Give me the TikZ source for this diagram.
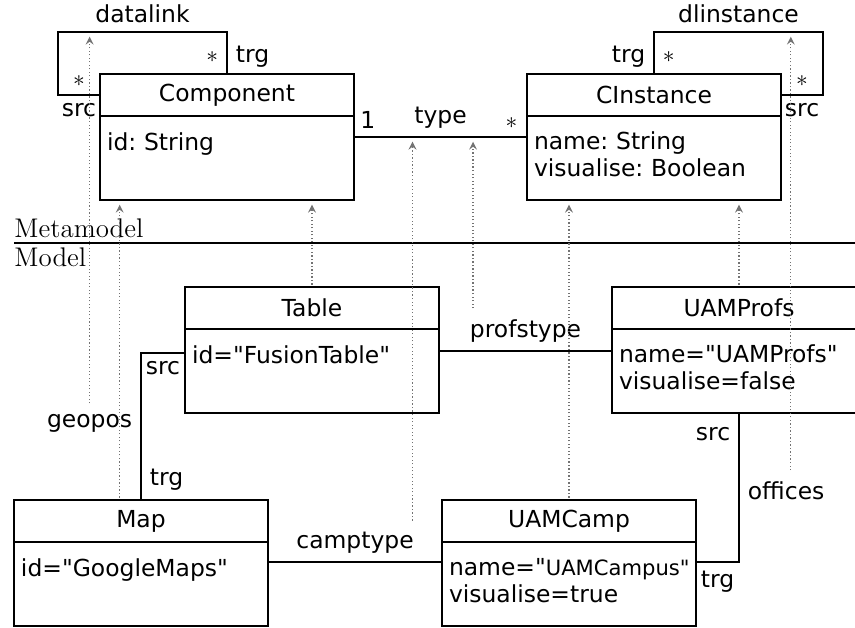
\documentclass[tikz,border=0pt]{standalone}
\usepackage{fontspec}
\newfontfamily\umlfont{DejaVu Sans}
\usetikzlibrary{positioning}
\tikzset{
  cls/.style={draw, line width=0.9pt, outer sep=0pt, inner sep=0pt, minimum width=3.81cm, minimum height=0.63cm, anchor=north west},
  attrs/.style={draw, line width=0.9pt, outer sep=0pt, inner xsep=0.105cm, inner ysep=0pt, text width=3.6cm, minimum height=1.26cm, align=left},
  assoc/.style={line width=0.9pt},
  inst/.style={black!55, densely dotted, line width=0.5pt, ->, >=stealth, shorten >=2pt, shorten <=1pt},
  layer/.style={font=\rmfamily\fontsize{11.5}{13}\selectfont, inner xsep=0pt, inner ysep=2pt}
}
\begin{document}
\frenchspacing
\begin{tikzpicture}[font=\umlfont\fontsize{10}{10.5}\selectfont]
\useasboundingbox (0,0) rectangle (12.825,9.42);

% metamodel
\node[cls] (comp) at (1.5,8.31) {Component};
\node[attrs, below=0pt of comp] (compattr) {\strut id: String\\\strut};
\node[cls] (cinst) at (7.905,8.31) {CInstance};
\node[attrs, below=0pt of cinst] (cinstattr) {\strut name: String\\\strut visualise: Boolean};

\draw[assoc] ([yshift=-0.315cm]compattr.north east) -- node[above, pos=0.08] {1} node[above] (type) {type} node[above, pos=0.91] {$\ast$} ([yshift=-0.315cm]cinstattr.north west);
\draw[assoc] (comp.west) -- node[above] {$\ast$} node[below] {src} ++(-0.63,0) |- node[pos=0.75, above] (datalink) {datalink} ([yshift=0.63cm]comp.north) -- node[pos=0.6, left] {$\ast$} node[pos=0.6, right] {trg} (comp.north);
\draw[assoc] (cinst.east) -- node[above] {$\ast$} node[below] {src} ++(0.63,0) |- node[pos=0.75, above] (dlinstance) {dlinstance} ([yshift=0.63cm]cinst.north) -- node[pos=0.6, left] {trg} node[pos=0.6, right] {$\ast$} (cinst.north);

% separator
\draw[semithick] (0.21,5.775) -- (12.825,5.775);
\node[layer, anchor=south west] (meta) at (0.21,5.775) {Metamodel};
\node[layer, anchor=north west] (model) at (0.21,5.775) {Model};

% model
\node[cls] (table) at (2.775,5.115) {Table};
\node[attrs, below=0pt of table] (tableattr) {\strut id="FusionTable"\\\strut};
\node[cls] (profs) at (9.18,5.115) {UAMProfs};
\node[attrs, below=0pt of profs] (profsattr) {\strut name="UAMProfs"\\\strut visualise=false};
\node[cls] (map) at (0.21,1.92) {Map};
\node[attrs, below=0pt of map] (mapattr) {\strut id="GoogleMaps"\\\strut};
\node[cls] (camp) at (6.63,1.92) {UAMCamp};
\node[attrs, below=0pt of camp] (campattr) {\strut name="{\small UAMCampus"}\\\strut visualise=true};

\draw[assoc] ([yshift=-0.33cm]tableattr.north east) -- node[above] (profstype) {profstype} ([yshift=-0.33cm]profsattr.north west);
\draw[assoc] ([yshift=-0.36cm]tableattr.north west) -| node[pos=0.25, below] {src} node[pos=0.74, left] (geopos) {geopos} node[pos=0.93, right] {trg} (map.north);
\draw[assoc] ([yshift=-0.3cm]mapattr.north east) -- node[above] (camptype) {camptype} ([yshift=-0.3cm]campattr.north west);
\draw[assoc] (profsattr.south) |- node[pos=0.07, left] {src} node[pos=0.26, right] (offices) {offices} node[pos=0.75, below] {trg} ([yshift=-0.3cm]campattr.north east);

% instance of
\draw[inst] ([xshift=-0.32cm]map.north) -- ([xshift=-0.32cm]map.north |- compattr.south);
\draw[inst] (geopos.north) -- (geopos.north |- datalink.south);
\draw[inst] (table.north) -- (table.north |- compattr.south);
\draw[inst] ([xshift=-0.15cm]camptype.north east) -- ([xshift=-0.15cm]camptype.north east |- type.south);
\draw[inst] ([xshift=0.18cm]profstype.north west) -- ([xshift=0.18cm]profstype.north west |- type.south);
\draw[inst] (camp.north) -- (camp.north |- cinstattr.south);
\draw[inst] (profs.north) -- (profs.north |- cinstattr.south);
\draw[inst] ([xshift=0.07cm]offices.north) -- ([xshift=0.07cm]offices.north |- dlinstance.south);
\end{tikzpicture}
\end{document}
